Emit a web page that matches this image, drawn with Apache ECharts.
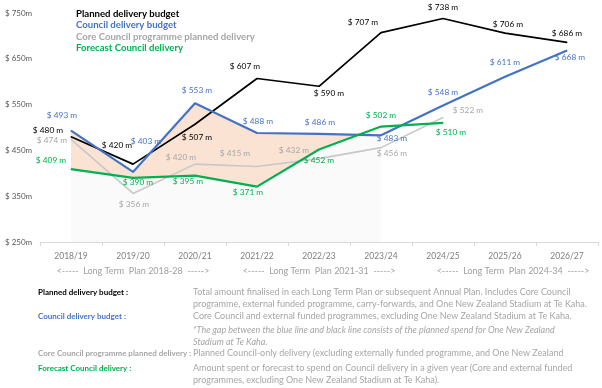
<!DOCTYPE html>
<html>
<head>
<meta charset="utf-8">
<script src="https://cdn.jsdelivr.net/npm/echarts@6/dist/echarts.min.js"></script>
<style>
html,body{margin:0;padding:0;background:#fff;}
#chart{width:602px;height:388px;}
</style>
</head>
<body>
<div id="chart"></div>
<script>
// ---- data ----
const categories = ['2018/19','2019/20','2020/21','2021/22','2022/23','2023/24','2024/25','2025/26','2026/27'];
const plannedBudget = [480, 420, 507, 607, 590, 707, 738, 706, 686];
const councilBudget = [493, 403, 553, 488, 486, 483, 548, 611, 668];
const corePlanned = [474, 356, 420, 415, 432, 456, 522];
const forecastDelivery = [409, 390, 395, 371, 452, 502, 510];
const actualYears = 6; // shaded years 2018/19 - 2023/24
const yTicks = [250, 350, 450, 550, 650, 750];
const planLabels = ['<-----  Long Term  Plan 2018-28  ----->', '<-----  Long Term  Plan 2021-31  ----->', '<-----  Long Term  Plan 2024-34  ----->'];
const seriesNames = ['Planned delivery budget', 'Council delivery budget', 'Core Council programme planned delivery', 'Forecast Council delivery'];

// ---- styling ----
const FONT = 'Lato';
const colBlack = '#000000', colBlue = '#4472C4', colGray = '#C8C8C8', colGrayText = '#A6A6A6', colGreen = '#00B050';
// label offsets (px) relative to each point
const offBlack = [[-23,-6],[-16,-19],[2,13],[-12,-12],[10,7],[-18,-10],[0,-11],[3,-9],[0,-9]];
const offBlue = [[-9,-15],[13,-31],[2,-13],[1,-12],[1,-12],[11,3],[0,-13],[0,-14],[3,7]];
const offGray = [[-19,1],[1,11],[-14,-7],[-22,-13],[-25,-8],[11,6],[25,-7]];
const offGreen = [[-20,-9],[5,4],[-7,6],[-9,6],[0,11],[0,-11],[8,9]];

function fmt(v){ return '$ ' + v + ' m'; }
function lineSeries(name, vals, offs, color, textColor, width, z){
  return {
    name, type: 'line', z,
    data: vals.map((v,i)=>({value:v, label:{offset: offs[i]}})),
    symbol: 'circle', symbolSize: 1, showSymbol: true,
    itemStyle: {color: color},
    lineStyle: {color: color, width: width},
    label: {show: true, position: 'inside', formatter: p => fmt(p.value), color: textColor,
            fontFamily: FONT, fontSize: 8.3},
    emphasis: {disabled: true},
    silent: true, animation: false
  };
}

const chart = echarts.init(document.getElementById('chart'), null, {renderer: 'canvas'});

const descX = 193, nameX = 38;
const descs = [
  {t:'Planned delivery budget :', c:colBlack, y:292},
  {t:'Council delivery budget :', c:colBlue, y:316},
  {t:'Core Council programme planned delivery :', c:'#A6A6A6', y:353},
  {t:'Forecast Council delivery :', c:colGreen, y:368}
];
const descLines = [
  {t:'Total amount finalised in each Long Term Plan or subsequent Annual Plan. Includes Core Council', y:292},
  {t:'programme, external funded programme, carry-forwards, and One New Zealand Stadium at Te Kaha.', y:304},
  {t:'Core Council and external funded programmes, excluding One New Zealand Stadium at Te Kaha.', y:316},
  {t:'*The gap between the blue line and black line consists of the planned spend for One New Zealand', y:330, i:true},
  {t:'Stadium at Te Kaha.', y:342, i:true},
  {t:'Planned Council-only delivery (excluding externally funded programme, and One New Zealand', y:353},
  {t:'Amount spent or forecast to spend on Council delivery in a given year (Core and external funded', y:368},
  {t:'programmes, excluding One New Zealand Stadium at Te Kaha).', y:380}
];
const legendCols = [colBlack, colBlue, '#A6A6A6', colGreen];

const graphics = [];
seriesNames.forEach((n,i)=>{
  graphics.push({type:'text', style:{text:n, x:76, y:14 + i*11.3, fill:legendCols[i],
    font:'bold 9.6px ' + FONT, verticalAlign:'middle', align:'left'}, silent:true});
});
planLabels.forEach((t,i)=>{
  graphics.push({type:'text', style:{text:t, x:[133,319,513][i], y:271, fill:'#A0A0A0',
    font:'9px ' + FONT, verticalAlign:'middle', align:'center'}, silent:true});
});
descs.forEach(d=>{
  graphics.push({type:'text', style:{text:d.t, x:nameX, y:d.y, fill:d.c,
    font:'bold 8px ' + FONT, verticalAlign:'middle', align:'left'}, silent:true});
});
descLines.forEach(d=>{
  graphics.push({type:'text', style:{text:d.t, x:descX, y:d.y, fill:'#A6A6A6',
    font:(d.i?'italic ':'') + '9px ' + FONT, verticalAlign:'middle', align:'left'}, silent:true});
});

const option = {
  animation: false,
  backgroundColor: '#ffffff',
  grid: {left: 40, right: 4, top: 13, bottom: 146, containLabel: false},
  xAxis: {
    type: 'category', data: categories, boundaryGap: true,
    axisLine: {lineStyle: {color: '#D9D9D9', width: 1}},
    axisTick: {show: true, length: 4, lineStyle: {color: '#D9D9D9'}},
    axisLabel: {color: '#7F7F7F', fontFamily: FONT, fontSize: 8.5, margin: 10}
  },
  yAxis: {
    type: 'value', min: yTicks[0], max: yTicks[yTicks.length-1], interval: 100,
    axisLine: {show: false}, axisTick: {show: false}, splitLine: {show: false},
    axisLabel: {formatter: v => '$ ' + v + 'm', color: '#595959', fontFamily: FONT, fontSize: 8,
                align: 'left', margin: 35}
  },
  series: [
    {name:'fillBudget', type:'line', z:1, data: councilBudget.slice(0, actualYears),
     symbol:'none', lineStyle:{width:0, opacity:0}, areaStyle:{color:'#FBE3D4', opacity:1, origin:'start'},
     silent:true, animation:false},
    {name:'fillForecast', type:'line', z:1, data: forecastDelivery.slice(0, actualYears),
     symbol:'none', lineStyle:{width:0, opacity:0}, areaStyle:{color:'#FAFAFA', opacity:1, origin:'start'},
     silent:true, animation:false},
    lineSeries(seriesNames[2], corePlanned, offGray, colGray, colGrayText, 1.6, 3),
    lineSeries(seriesNames[0], plannedBudget, offBlack, colBlack, colBlack, 1.7, 4),
    lineSeries(seriesNames[1], councilBudget, offBlue, colBlue, colBlue, 2.2, 5),
    lineSeries(seriesNames[3], forecastDelivery, offGreen, colGreen, colGreen, 2.2, 6)
  ],
  graphic: graphics
};
chart.setOption(option);
</script>
</body>
</html>
